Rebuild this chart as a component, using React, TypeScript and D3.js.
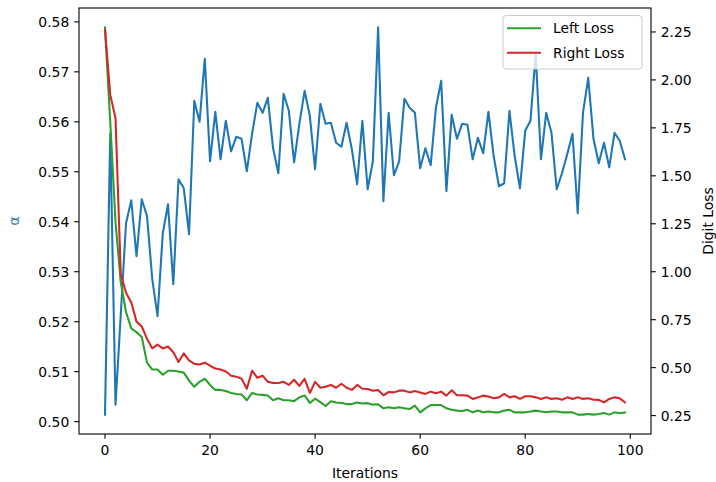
import React from "react";
import * as d3 from "d3";

const iterations: number[] = Array.from({ length: 100 }, (_, i) => i);

const alphaValues: number[] = [
  0.5014, 0.5576, 0.5034, 0.5214, 0.5397, 0.5443, 0.5331, 0.5445, 0.5411, 0.5285,
  0.5211, 0.5377, 0.5435, 0.5275, 0.5485, 0.5467, 0.5375, 0.5642, 0.5600, 0.5726,
  0.5521, 0.5620, 0.5525, 0.5602, 0.5541, 0.5570, 0.5566, 0.5501, 0.5576, 0.5638,
  0.5618, 0.5648, 0.5547, 0.5497, 0.5656, 0.5622, 0.5519, 0.5596, 0.5662, 0.5612,
  0.5505, 0.5636, 0.5596, 0.5598, 0.5558, 0.5550, 0.5598, 0.5545, 0.5475, 0.5602,
  0.5465, 0.5521, 0.5789, 0.5441, 0.5618, 0.5493, 0.5521, 0.5646, 0.5628, 0.5618,
  0.5507, 0.5547, 0.5513, 0.5628, 0.5682, 0.5461, 0.5614, 0.5566, 0.5596, 0.5594,
  0.5525, 0.5568, 0.5537, 0.5620, 0.5531, 0.5471, 0.5477, 0.5622, 0.5531, 0.5467,
  0.5582, 0.5602, 0.5736, 0.5525, 0.5618, 0.5578, 0.5465, 0.5497, 0.5535, 0.5576,
  0.5417, 0.5618, 0.5688, 0.5566, 0.5517, 0.5558, 0.5509, 0.5578, 0.5562, 0.5525,
];

const leftLoss: number[] = [
  2.274, 1.78, 1.26, 0.945, 0.79, 0.705, 0.685, 0.66, 0.526, 0.49,
  0.49, 0.463, 0.484, 0.484, 0.48, 0.474, 0.432, 0.40, 0.426, 0.442,
  0.41, 0.384, 0.384, 0.378, 0.368, 0.363, 0.36, 0.33, 0.368, 0.36,
  0.358, 0.355, 0.33, 0.34, 0.33, 0.33, 0.325, 0.345, 0.355, 0.316,
  0.338, 0.32, 0.30, 0.325, 0.318, 0.316, 0.31, 0.31, 0.318, 0.313,
  0.315, 0.307, 0.309, 0.288, 0.293, 0.288, 0.293, 0.288, 0.284, 0.302,
  0.267, 0.288, 0.305, 0.305, 0.305, 0.288, 0.28, 0.276, 0.274, 0.28,
  0.267, 0.276, 0.267, 0.271, 0.267, 0.267, 0.276, 0.28, 0.267, 0.267,
  0.267, 0.271, 0.276, 0.271, 0.267, 0.271, 0.271, 0.267, 0.267, 0.267,
  0.255, 0.255, 0.258, 0.255, 0.258, 0.264, 0.255, 0.267, 0.262, 0.267,
];

const rightLoss: number[] = [
  2.262, 1.922, 1.802, 0.99, 0.89, 0.84, 0.74, 0.715, 0.65, 0.60,
  0.62, 0.60, 0.61, 0.58, 0.53, 0.574, 0.538, 0.52, 0.516, 0.526,
  0.51, 0.495, 0.49, 0.48, 0.458, 0.453, 0.442, 0.39, 0.484, 0.447,
  0.458, 0.426, 0.42, 0.42, 0.426, 0.41, 0.437, 0.405, 0.442, 0.368,
  0.426, 0.395, 0.40, 0.41, 0.395, 0.416, 0.395, 0.384, 0.41, 0.39,
  0.389, 0.38, 0.383, 0.356, 0.373, 0.371, 0.38, 0.38, 0.371, 0.378,
  0.371, 0.363, 0.375, 0.366, 0.375, 0.354, 0.382, 0.356, 0.356, 0.354,
  0.337, 0.345, 0.354, 0.349, 0.34, 0.345, 0.363, 0.345, 0.351, 0.337,
  0.351, 0.351, 0.345, 0.337, 0.345, 0.337, 0.34, 0.333, 0.345, 0.337,
  0.345, 0.337, 0.34, 0.333, 0.332, 0.319, 0.337, 0.345, 0.34, 0.319,
];

const xTicks: number[] = [0, 20, 40, 60, 80, 100];
const leftTicks: number[] = [0.5, 0.51, 0.52, 0.53, 0.54, 0.55, 0.56, 0.57, 0.58];
const rightTicks: number[] = [0.25, 0.5, 0.75, 1.0, 1.25, 1.5, 1.75, 2.0, 2.25];
const legendLabels: string[] = ["Left Loss", "Right Loss"];

const BLUE = "#1f77b4";
const GREEN = "#2ca02c";
const RED = "#d62728";
const FONT = "DejaVu Sans, sans-serif";
const FS = 13.9;

function padDomain(vals: number[]): [number, number] {
  const mn = d3.min(vals) as number;
  const mx = d3.max(vals) as number;
  const m = (mx - mn) * 0.05;
  return [mn - m, mx + m];
}

export default function App() {
  const W = 716, H = 482;
  const L = 79, R = 651, T = 8, B = 434;

  const x = d3.scaleLinear().domain(padDomain(iterations)).range([L, R]);
  const yL = d3.scaleLinear().domain(padDomain(alphaValues)).range([B, T]);
  const yR = d3.scaleLinear().domain(padDomain([...leftLoss, ...rightLoss])).range([B, T]);

  const lineA = d3.line<number>().x((_, i) => x(iterations[i])).y((d) => yL(d));
  const lineR = d3.line<number>().x((_, i) => x(iterations[i])).y((d) => yR(d));

  const tick = 4.86;
  const pad = 4.86;

  return (
    <svg width={W} height={H} style={{ position: "absolute", left: 0, top: 0, background: "#fff" }}
      fontFamily={FONT}>
      <rect x={0} y={0} width={W} height={H} fill="#fff" />
      <defs>
        <clipPath id="plotclip">
          <rect x={L} y={T} width={R - L} height={B - T} />
        </clipPath>
      </defs>
      <g clipPath="url(#plotclip)">
        <path d={lineA(alphaValues) || ""} fill="none" stroke={BLUE} strokeWidth={2.08} strokeLinejoin="round" strokeLinecap="square" />
        <path d={lineR(leftLoss) || ""} fill="none" stroke={GREEN} strokeWidth={2.08} strokeLinejoin="round" strokeLinecap="square" />
        <path d={lineR(rightLoss) || ""} fill="none" stroke={RED} strokeWidth={2.08} strokeLinejoin="round" strokeLinecap="square" />
      </g>
      {/* spines */}
      <rect x={L} y={T} width={R - L} height={B - T} fill="none" stroke="#000" strokeWidth={1.1} />
      {/* x ticks */}
      {xTicks.map((t) => (
        <g key={"x" + t}>
          <line x1={x(t)} x2={x(t)} y1={B} y2={B + tick} stroke="#000" strokeWidth={1.1} />
          <text x={x(t)} y={B + tick + pad + 11} fontSize={FS} textAnchor="middle" fill="#000">{String(t)}</text>
        </g>
      ))}
      {/* left ticks */}
      {leftTicks.map((t) => (
        <g key={"l" + t}>
          <line x1={L - tick} x2={L} y1={yL(t)} y2={yL(t)} stroke="#000" strokeWidth={1.1} />
          <text x={L - tick - pad} y={yL(t) + 5} fontSize={FS} textAnchor="end" fill="#000">{t.toFixed(2)}</text>
        </g>
      ))}
      {/* right ticks */}
      {rightTicks.map((t) => (
        <g key={"r" + t}>
          <line x1={R} x2={R + tick} y1={yR(t)} y2={yR(t)} stroke="#000" strokeWidth={1.1} />
          <text x={R + tick + pad} y={yR(t) + 5} fontSize={FS} textAnchor="start" fill="#000">{t.toFixed(2)}</text>
        </g>
      ))}
      {/* axis labels */}
      <text x={(L + R) / 2} y={478} fontSize={FS} textAnchor="middle" fill="#000">Iterations</text>
      <text transform={`translate(19, ${(T + B) / 2}) rotate(-90)`} fontSize={FS} textAnchor="middle" fill={BLUE}>α</text>
      <text transform={`translate(713, ${(T + B) / 2}) rotate(-90)`} fontSize={FS} textAnchor="middle" fill="#000">Digit Loss</text>
      {/* legend */}
      <g>
        <rect x={503} y={15.5} width={139} height={53.5} rx={3} ry={3} fill="#fff" fillOpacity={0.8} stroke="#cccccc" strokeWidth={1} />
        {legendLabels.map((lab, i) => (
          <g key={lab}>
            <line x1={507} x2={541} y1={28.3 + i * 24.4} y2={28.3 + i * 24.4} stroke={i === 0 ? GREEN : RED} strokeWidth={2.08} />
            <text x={553} y={28.3 + i * 24.4 + 5} fontSize={FS} fill="#000">{lab}</text>
          </g>
        ))}
      </g>
    </svg>
  );
}
